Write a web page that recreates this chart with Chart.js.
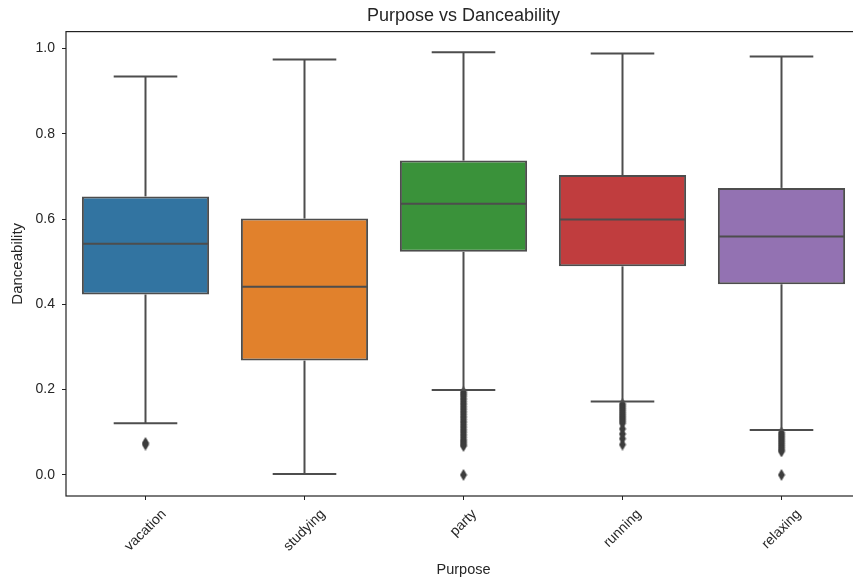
<!DOCTYPE html>
<html>
<head>
<meta charset="utf-8">
<script src="https://cdn.jsdelivr.net/npm/chart.js@4/dist/chart.umd.min.js"></script>
<style>
  html, body { margin: 0; padding: 0; background: #fff; overflow: hidden; }
  #wrap { position: relative; width: 866px; height: 581px; }
</style>
</head>
<body>
<div id="wrap"><canvas id="boxChart"></canvas></div>
<script>
// Data
const categories = ['vacation', 'studying', 'party', 'running', 'relaxing'];
const whiskerLow = [0.121, 0.002, 0.199, 0.172, 0.105];
const q1 = [0.423, 0.268, 0.523, 0.489, 0.447];
const median = [0.542, 0.441, 0.636, 0.599, 0.559];
const q3 = [0.653, 0.601, 0.737, 0.703, 0.673];
const whiskerHigh = [0.934, 0.974, 0.991, 0.988, 0.981];
const yTicks = [0.0, 0.2, 0.4, 0.6, 0.8, 1.0];

// outliers per category
const outVacation = [0.075, 0.071];
const outStudying = [];
const outParty = [0.194, 0.189, 0.184, 0.178, 0.172, 0.166, 0.16, 0.154, 0.148, 0.142, 0.136,
    0.13, 0.124, 0.118, 0.112, 0.106, 0.1, 0.094, 0.088, 0.082, 0.077, 0.072, 0.068, 0.0];
const outRunning = [0.166, 0.161, 0.156, 0.151, 0.146, 0.141, 0.136, 0.131, 0.126, 0.121,
    0.108, 0.096, 0.085, 0.071];
const outRelaxing = [0.099, 0.094, 0.089, 0.084, 0.079, 0.074, 0.069, 0.064, 0.059, 0.055, 0.0];

const boxColors = ['#3274a1', '#e1812c', '#3a923a', '#c03d3e', '#9372b2'];
const lineGray = '#4d4d4d';
const textColor = '#262626';
const fontFamily = "'Liberation Sans', Arial, sans-serif";
const tickSize = 14;

const outliers = [];
[outVacation, outStudying, outParty, outRunning, outRelaxing].forEach((arr, i) => {
    arr.forEach(v => outliers.push({ x: categories[i], y: v }));
});

// thin diamond marker like matplotlib 'd'
const diamond = document.createElement('canvas');
diamond.width = 8;
diamond.height = 12;
(function () {
    const c = diamond.getContext('2d');
    c.fillStyle = '#3d3d3d';
    c.beginPath();
    c.moveTo(4, 0);
    c.lineTo(7.5, 6);
    c.lineTo(4, 12);
    c.lineTo(0.5, 6);
    c.closePath();
    c.fill();
})();

// whiskers, caps, medians, frame and rotated x labels
const boxExtras = {
    id: 'boxExtras',
    afterDatasetsDraw(chart) {
        const ctx = chart.ctx;
        const y = chart.scales.y;
        const bars = chart.getDatasetMeta(0).data;
        ctx.save();
        ctx.strokeStyle = lineGray;
        ctx.lineWidth = 2;
        bars.forEach((bar, i) => {
            const cx = bar.x;
            const w = bar.width;
            const seg = (x1, y1, x2, y2) => {
                ctx.beginPath();
                ctx.moveTo(x1, y1);
                ctx.lineTo(x2, y2);
                ctx.stroke();
            };
            seg(cx, y.getPixelForValue(q3[i]), cx, y.getPixelForValue(whiskerHigh[i]));
            seg(cx, y.getPixelForValue(q1[i]), cx, y.getPixelForValue(whiskerLow[i]));
            seg(cx - w / 4, y.getPixelForValue(whiskerHigh[i]), cx + w / 4, y.getPixelForValue(whiskerHigh[i]));
            seg(cx - w / 4, y.getPixelForValue(whiskerLow[i]), cx + w / 4, y.getPixelForValue(whiskerLow[i]));
            seg(cx - w / 2 + 1, y.getPixelForValue(median[i]), cx + w / 2 - 1, y.getPixelForValue(median[i]));
        });
        ctx.restore();
    },
    afterDraw(chart) {
        const ctx = chart.ctx;
        const a = chart.chartArea;
        const x = chart.scales.x;
        ctx.save();
        ctx.strokeStyle = '#222';
        ctx.lineWidth = 1.2;
        ctx.strokeRect(a.left, a.top, a.right - a.left, a.bottom - a.top);

        ctx.font = tickSize + 'px ' + fontFamily;
        ctx.fillStyle = textColor;
        ctx.textAlign = 'center';
        ctx.textBaseline = 'middle';
        categories.forEach((lab, i) => {
            const px = x.getPixelForValue(i);
            const L = ctx.measureText(lab).width;
            const s = (L + tickSize) * Math.SQRT1_2;
            ctx.save();
            ctx.translate(px, a.bottom + 11 + s / 2);
            ctx.rotate(-Math.PI / 4);
            ctx.fillText(lab, 0, 0);
            ctx.restore();
        });
        ctx.restore();
    }
};

const tickGrid = {
    display: true,
    drawOnChartArea: false,
    drawTicks: true,
    tickLength: 4,
    tickWidth: 1,
    color: '#222',
    offset: false
};

const ctx = document.getElementById('boxChart').getContext('2d');
const boxChart = new Chart(ctx, {
    data: {
        labels: categories,
        datasets: [{
            type: 'bar',
            data: q1.map((v, i) => [v, q3[i]]),
            backgroundColor: boxColors,
            borderColor: lineGray,
            borderWidth: 2,
            borderSkipped: false,
            barPercentage: 0.8,
            categoryPercentage: 1.0,
            order: 2
        }, {
            type: 'line',
            data: outliers,
            showLine: false,
            pointStyle: diamond,
            pointRadius: 4,
            order: 1
        }]
    },
    options: {
        responsive: true,
        maintainAspectRatio: false,
        animation: false,
        layout: { padding: { top: 0, right: 4.5, left: 0, bottom: 0 } },
        plugins: {
            legend: { display: false },
            tooltip: { enabled: false },
            title: {
                display: true,
                text: 'Purpose vs Danceability',
                fullSize: false,
                color: textColor,
                font: { family: fontFamily, size: 18, weight: 'normal' },
                padding: { top: 5, bottom: 5 }
            }
        },
        scales: {
            x: {
                type: 'category',
                offset: true,
                grid: tickGrid,
                border: { display: false },
                ticks: { display: false },
                title: {
                    display: true,
                    text: 'Purpose',
                    color: textColor,
                    font: { family: fontFamily, size: 14.5 },
                    padding: { top: 0, bottom: 2 }
                },
                afterFit(scale) { scale.height = 85; }
            },
            y: {
                min: -0.0495,
                max: 1.0395,
                grid: tickGrid,
                border: { display: false },
                afterBuildTicks(scale) {
                    scale.ticks = yTicks.map(v => ({ value: v }));
                },
                ticks: {
                    color: textColor,
                    font: { family: fontFamily, size: tickSize },
                    padding: 7,
                    callback: v => v.toFixed(1)
                },
                title: {
                    display: true,
                    text: 'Danceability',
                    color: textColor,
                    font: { family: fontFamily, size: 15 },
                    padding: { top: 9, bottom: 0 }
                },
                afterFit(scale) { scale.width = 66; }
            }
        }
    },
    plugins: [boxExtras]
});
</script>
</body>
</html>
